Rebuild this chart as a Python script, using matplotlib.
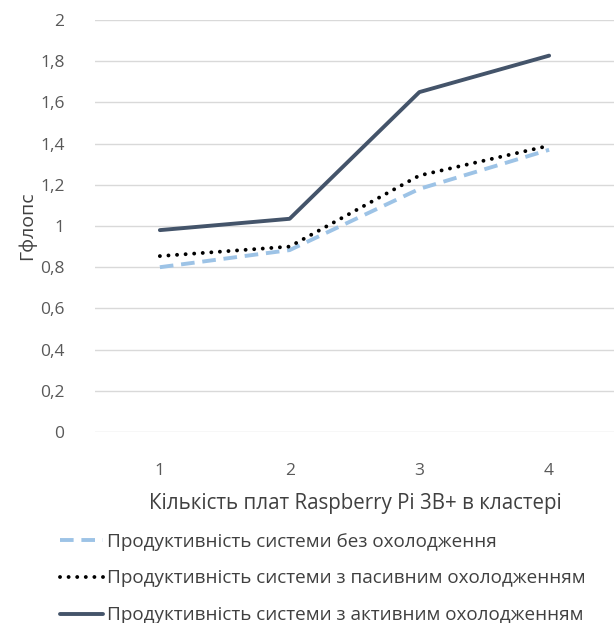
import numpy as np
import matplotlib.pyplot as plt

plt.rcParams['font.family'] = ['Open Sans', 'DejaVu Sans']

# data #
boards = ['1', '2', '3', '4']
no_cooling = [0.80, 0.883, 1.18, 1.37]
passive = [0.854, 0.90, 1.245, 1.39]
active = [0.98, 1.035, 1.65, 1.827]
labels = ['Продуктивність системи без охолодження',
          'Продуктивність системи з пасивним охолодженням',
          'Продуктивність системи з активним охолодженням']
y_ticks = [0, 0.2, 0.4, 0.6, 0.8, 1, 1.2, 1.4, 1.6, 1.8, 2]

W, H = 616, 623
fig = plt.figure(figsize=(W/100, H/100), dpi=100)
ax = fig.add_axes([95/W, 1-432/H, (614-95)/W, (432-20)/H])

x = np.arange(len(boards))
l1, = ax.plot(x, no_cooling, color='#9DC3E6', lw=2.8, ls=(0, (3.5, 2)),
              solid_capstyle='round')
l2, = ax.plot(x, passive, color='black', lw=2.8, ls=(0, (0.01, 2.2)),
              dash_capstyle='round')
l3, = ax.plot(x, active, color='#44546A', lw=2.8, solid_capstyle='round')

ax.set_xlim(-0.5, len(boards)-0.5)
ax.set_ylim(0, 2)
ax.set_xticks(x)
ax.set_xticklabels(boards)
ax.set_yticks(y_ticks)
ax.set_yticklabels([('%g' % v).replace('.', ',') for v in y_ticks])
ax.tick_params(length=0, labelsize=12.5, labelcolor='#595959')
ax.tick_params(axis='x', pad=22)
ax.tick_params(axis='y', pad=22)
ax.grid(axis='y', color='#D9D9D9', lw=1)
ax.set_axisbelow(True)
for s in ax.spines.values():
    s.set_visible(False)

ax.set_ylabel('Гфлопс', fontsize=14, color='#404040', labelpad=3)
fig.text(355/W, 1-503/H, 'Кількість плат Raspberry Pi 3B+ в кластері',
         ha='center', va='center', fontsize=14.8, color='#404040')

leg = fig.legend([l1, l2, l3], labels, loc='upper left',
                 bbox_to_anchor=(52/W, 1-525/H), frameon=False,
                 fontsize=13.6, handlelength=2.3, handletextpad=0.2,
                 labelspacing=1.0, borderaxespad=0)
for t in leg.get_texts():
    t.set_color('#404040')

fig.savefig('out.png', dpi=100)
